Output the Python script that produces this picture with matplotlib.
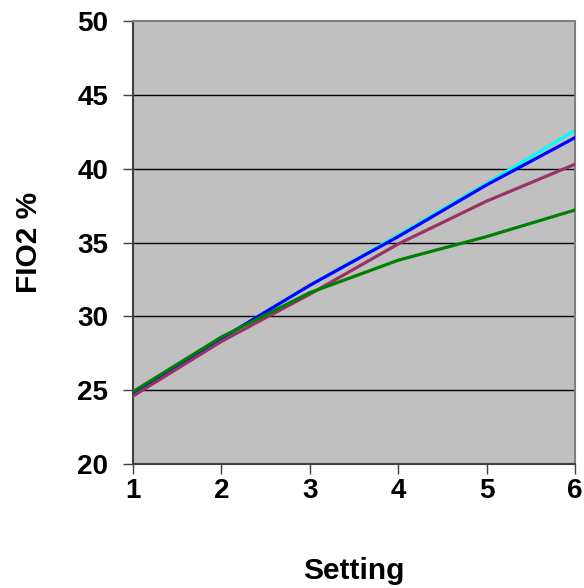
import numpy as np
import matplotlib.pyplot as plt

# Data
setting = [1, 2, 3, 4, 5, 6]
fio2_cyan = [24.8, 28.5, 32.1, 35.5, 39.0, 42.6]
fio2_blue = [24.8, 28.5, 32.1, 35.4, 38.9, 42.1]
fio2_magenta = [24.6, 28.3, 31.5, 34.9, 37.8, 40.3]
fio2_green = [24.9, 28.6, 31.6, 33.8, 35.4, 37.2]

y_ticks = [20, 25, 30, 35, 40, 45, 50]

plt.rcParams['font.family'] = ['Liberation Sans', 'DejaVu Sans']

fig = plt.figure(figsize=(5.84, 5.88), dpi=100)
ax = fig.add_axes([133 / 584, 1 - 464 / 588, (575 - 133) / 584, (464 - 21) / 588])
ax.set_facecolor('#c0c0c0')

for yv in y_ticks[1:-1]:
    ax.axhline(yv, color='black', linewidth=1.0, zorder=1)

ax.plot(setting, fio2_cyan, color='#00ffff', linewidth=2.3, zorder=2)
ax.plot(setting, fio2_blue, color='#0000ff', linewidth=2.3, zorder=3)
ax.plot(setting, fio2_magenta, color='#993366', linewidth=2.3, zorder=3)
ax.plot(setting, fio2_green, color='#008000', linewidth=2.3, zorder=4)

ax.set_xlim(1, 6)
ax.set_ylim(20, 50)
ax.set_xticks(setting)
ax.set_yticks(y_ticks)

ax.tick_params(axis='both', direction='out', length=7, width=1.0, colors='#404040',
               labelcolor='black', labelsize=20)
ax.tick_params(axis='y', pad=11)
ax.tick_params(axis='x', pad=3)
for lbl in ax.get_xticklabels() + ax.get_yticklabels():
    lbl.set_fontweight('bold')

ax.spines['left'].set_color('#404040')
ax.spines['bottom'].set_color('#404040')
ax.spines['top'].set_color('#808080')
ax.spines['right'].set_color('#808080')
for s in ax.spines.values():
    s.set_linewidth(1.5)

ax.set_xlabel('Setting', fontsize=21.5, fontweight='bold')
ax.set_ylabel('FIO2 %', fontsize=21.5, fontweight='bold')
# label positions in axes coordinates
ax.xaxis.set_label_coords(0.5, -(579 - 464) / 443, transform=ax.transAxes)
ax.xaxis.label.set_va('baseline')
ax.yaxis.set_label_coords(-(133 - 43) / 442, 0.5, transform=ax.transAxes)

fig.savefig('out.png', dpi=100)
